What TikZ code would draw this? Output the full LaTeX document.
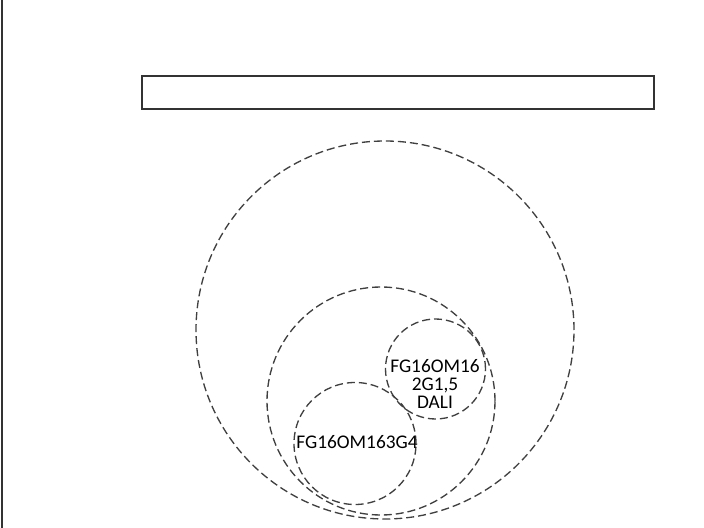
\documentclass[tikz,border=0pt]{standalone}
\usepackage{fontspec}
\setmainfont{Carlito}
\tikzset{
  ring/.style={circle,draw=black!75,line width=1pt,dash pattern=on 6pt off 3pt,inner sep=0pt},
  lbl/.style={font=\fontsize{14.5}{13.5}\selectfont,align=center,inner sep=0pt}
}
\begin{document}
\begin{tikzpicture}[x=0.75pt,y=-0.75pt]
            \useasboundingbox (0,0) rectangle (704,528);
            \draw[black!80,line width=1pt] (2,0)--(2,528);
            \node[draw=black!80,line width=1pt,minimum width=384pt,minimum height=24.75pt,inner sep=0pt] (bar) at (398,92.5){};
            \node[ring,minimum size=283.5pt] (big) at (385,330){};
            \node[ring,minimum size=171pt] (mid) at (381,401){};
            \node[ring,minimum size=75pt] (dali) at (435.5,369){};
            \node[ring,minimum size=91.5pt] (g4) at (355,443.5){};
            \node[lbl] (daliT) at (435,384){FG16OM16\\2G1,5\\DALI};
            \node[lbl] (g4T) at (357,442){FG16OM163G4};
        \end{tikzpicture}
\end{document}
